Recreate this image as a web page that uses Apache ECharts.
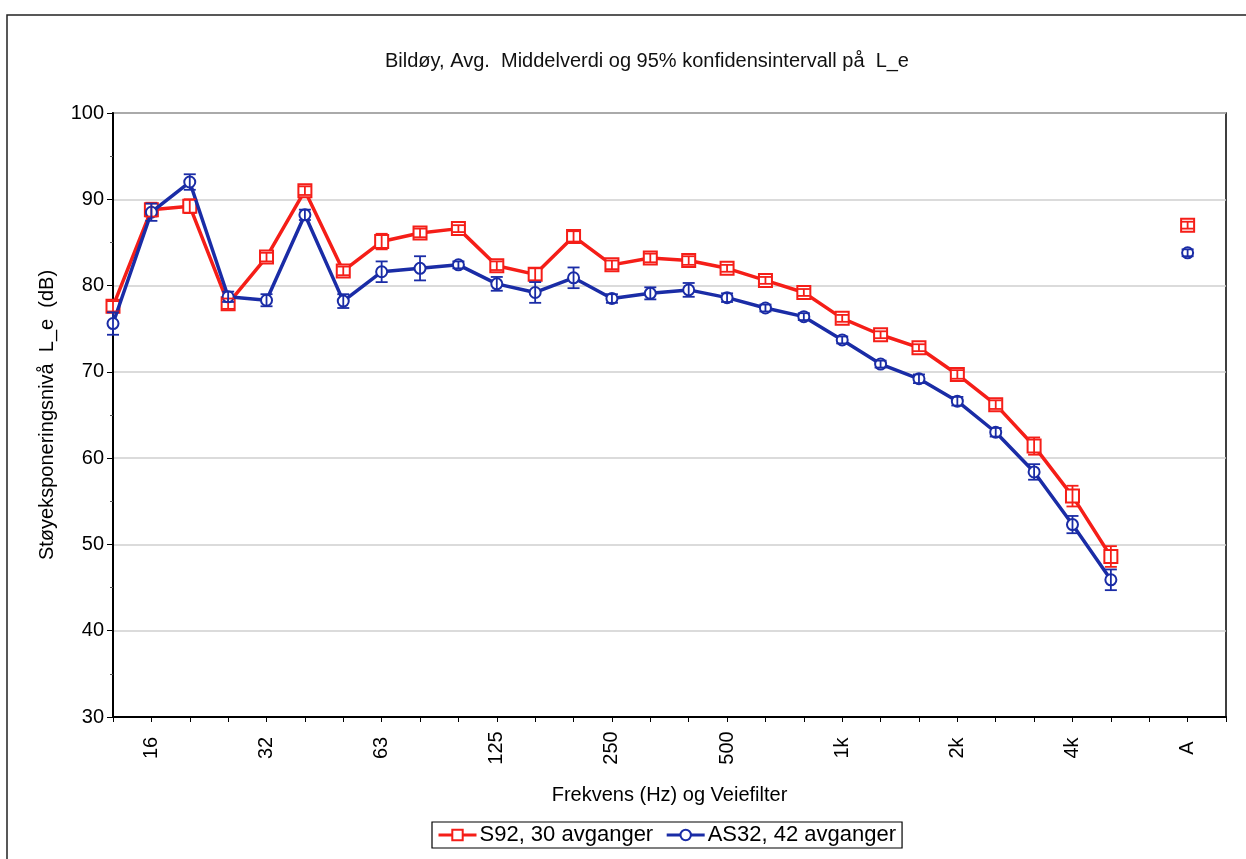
<!DOCTYPE html>
<html>
<head>
<meta charset="utf-8">
<script src="https://cdn.jsdelivr.net/npm/echarts@6/dist/echarts.min.js"></script>
<style>
  html, body { margin: 0; padding: 0; background: #fff; }
  #chart { width: 1246px; height: 859px; }
</style>
</head>
<body>
<div id="chart"></div>
<script>
// 1/3-oktav bånd + A-veiing (tom plass før og etter A)
const categories = ['12.5', '16', '20', '25', '32', '40', '50', '63', '80', '100', '125', '160', '200',
  '250', '315', '400', '500', '630', '800', '1k', '1.25k', '1.6k', '2k', '2.5k', '3.15k', '4k', '5k',
  '6.3k', 'A', ''];

const s92 = [77.6, 88.8, 89.2, 77.9, 83.3, 91.0, 81.7, 85.1, 86.1, 86.6, 82.3, 81.3, 85.7,
  82.4, 83.2, 82.9, 82.0, 80.6, 79.2, 76.2, 74.3, 72.8, 69.7, 66.2, 61.4, 55.6, 48.6,
  null, 87.0, null];
const s92Err = [0.6, 0.8, 0.8, 0.6, 0.5, 0.5, 0.5, 0.9, 0.5, 0.4, 0.5, 0.7, 0.6,
  0.5, 0.5, 0.5, 0.4, 0.4, 0.4, 0.4, 0.4, 0.4, 0.5, 0.5, 1.0, 1.2, 1.2,
  null, 0.4, null];

const as32 = [75.6, 88.5, 92.0, 78.7, 78.3, 88.2, 78.2, 81.6, 82.0, 82.4, 80.2, 79.2, 80.9,
  78.5, 79.1, 79.5, 78.6, 77.4, 76.4, 73.7, 70.9, 69.2, 66.6, 63.0, 58.4, 52.3, 45.9,
  null, 83.8, null];
const as32Err = [1.3, 1.0, 0.9, 0.6, 0.7, 0.6, 0.8, 1.2, 1.4, 0.4, 0.8, 1.2, 1.2,
  0.5, 0.7, 0.8, 0.5, 0.4, 0.4, 0.4, 0.4, 0.5, 0.5, 0.5, 0.9, 1.0, 1.2,
  null, 0.4, null];

const yTicks = [30, 40, 50, 60, 70, 80, 90, 100];

const RED = '#f51e18';
const BLUE = '#1a2ca6';
const FONT = "'Liberation Sans', Arial, sans-serif";

function errData(vals, errs) {
  const out = [];
  vals.forEach((v, i) => {
    if (v != null && errs[i] != null) out.push([i, v - errs[i], v + errs[i]]);
  });
  return out;
}

function errRender(color) {
  return function (params, api) {
    const lo = api.coord([api.value(0), api.value(1)]);
    const hi = api.coord([api.value(0), api.value(2)]);
    const w = 6;
    const style = { stroke: color, lineWidth: 1.8, fill: null };
    return {
      type: 'group',
      children: [
        { type: 'line', shape: { x1: lo[0], y1: lo[1], x2: hi[0], y2: hi[1] }, style },
        { type: 'line', shape: { x1: lo[0] - w, y1: lo[1], x2: lo[0] + w, y2: lo[1] }, style },
        { type: 'line', shape: { x1: hi[0] - w, y1: hi[1], x2: hi[0] + w, y2: hi[1] }, style }
      ]
    };
  };
}

const myChart = echarts.init(document.getElementById('chart'));

const option = {
  backgroundColor: '#fff',
  textStyle: { fontFamily: FONT },
  animation: false,
  title: {
    text: 'Bildøy, Avg.  Middelverdi og 95% konfidensintervall på  L_e',
    left: 642,
    top: 46,
    textAlign: 'center',
    textStyle: { fontSize: 20, fontWeight: 'normal', color: '#111', fontFamily: "'Liberation Sans Narrow', 'Arial Narrow', " + FONT }
  },
  graphic: [
    {
      type: 'rect',
      shape: { x: 7, y: 15, width: 1300, height: 900 },
      style: { fill: null, stroke: '#222', lineWidth: 1.5 },
      silent: true
    }
  ],
  legend: {
    left: 432,
    top: 822,
    itemGap: 12,
    itemWidth: 38,
    itemHeight: 13,
    padding: [2, 6, 2, 5],
    borderColor: '#000',
    borderWidth: 1.2,
    lineStyle: { width: 3 },
    textStyle: { fontSize: 22, color: '#000', padding: [0, 0, 0, -2] },
    data: ['S92, 30 avganger', 'AS32, 42 avganger']
  },
  grid: {
    left: 113,
    right: 20,
    top: 113,
    bottom: 142,
    show: true,
    borderColor: '#000',
    borderWidth: 1.5
  },
  xAxis: {
    type: 'category',
    data: categories,
    boundaryGap: false,
    name: 'Frekvens (Hz) og Veiefilter',
    nameLocation: 'middle',
    nameGap: 68,
    nameTextStyle: { fontSize: 20, color: '#000' },
    axisLine: { lineStyle: { color: '#000', width: 2 } },
    axisTick: { show: true, interval: 0, length: 5, lineStyle: { color: '#000' } },
    axisLabel: {
      rotate: 90,
      interval: (i) => i % 3 === 1,
      fontSize: 20,
      color: '#000',
      align: 'center',
      verticalAlign: 'middle',
      margin: 31
    },
    splitLine: { show: false }
  },
  yAxis: {
    type: 'value',
    min: yTicks[0],
    max: yTicks[yTicks.length - 1],
    interval: 10,
    name: 'Støyeksponeringsnivå  L_e  (dB)',
    nameLocation: 'middle',
    nameGap: 56,
    nameTextStyle: { fontSize: 20, color: '#000' },
    axisLine: { show: true, lineStyle: { color: '#000', width: 2 } },
    axisTick: { show: true, length: 6, lineStyle: { color: '#000' } },
    minorTick: { show: true, splitNumber: 2, length: 3, lineStyle: { color: '#555' } },
    axisLabel: { fontSize: 20, color: '#000', margin: 9 },
    splitLine: { show: true, lineStyle: { color: '#cfcfcf', width: 1.5 } }
  },
  series: [
    {
      name: 'S92, 30 avganger',
      type: 'line',
      data: s92,
      connectNulls: false,
      symbol: 'rect',
      symbolSize: 13,
      showAllSymbol: true,
      lineStyle: { color: RED, width: 3.5 },
      itemStyle: { color: '#fff', borderColor: RED, borderWidth: 2 },
      z: 3
    },
    {
      name: 'AS32, 42 avganger',
      type: 'line',
      data: as32,
      connectNulls: false,
      symbol: 'circle',
      symbolSize: 11,
      showAllSymbol: true,
      lineStyle: { color: BLUE, width: 3.5 },
      itemStyle: { color: '#fff', borderColor: BLUE, borderWidth: 2 },
      z: 4
    },
    {
      type: 'custom',
      name: 'S92 err',
      data: errData(s92, s92Err),
      renderItem: errRender(RED),
      encode: { x: 0, y: [1, 2] },
      z: 5,
      silent: true
    },
    {
      type: 'custom',
      name: 'AS32 err',
      data: errData(as32, as32Err),
      renderItem: errRender(BLUE),
      encode: { x: 0, y: [1, 2] },
      z: 6,
      silent: true
    }
  ]
};

myChart.setOption(option);
</script>
</body>
</html>
